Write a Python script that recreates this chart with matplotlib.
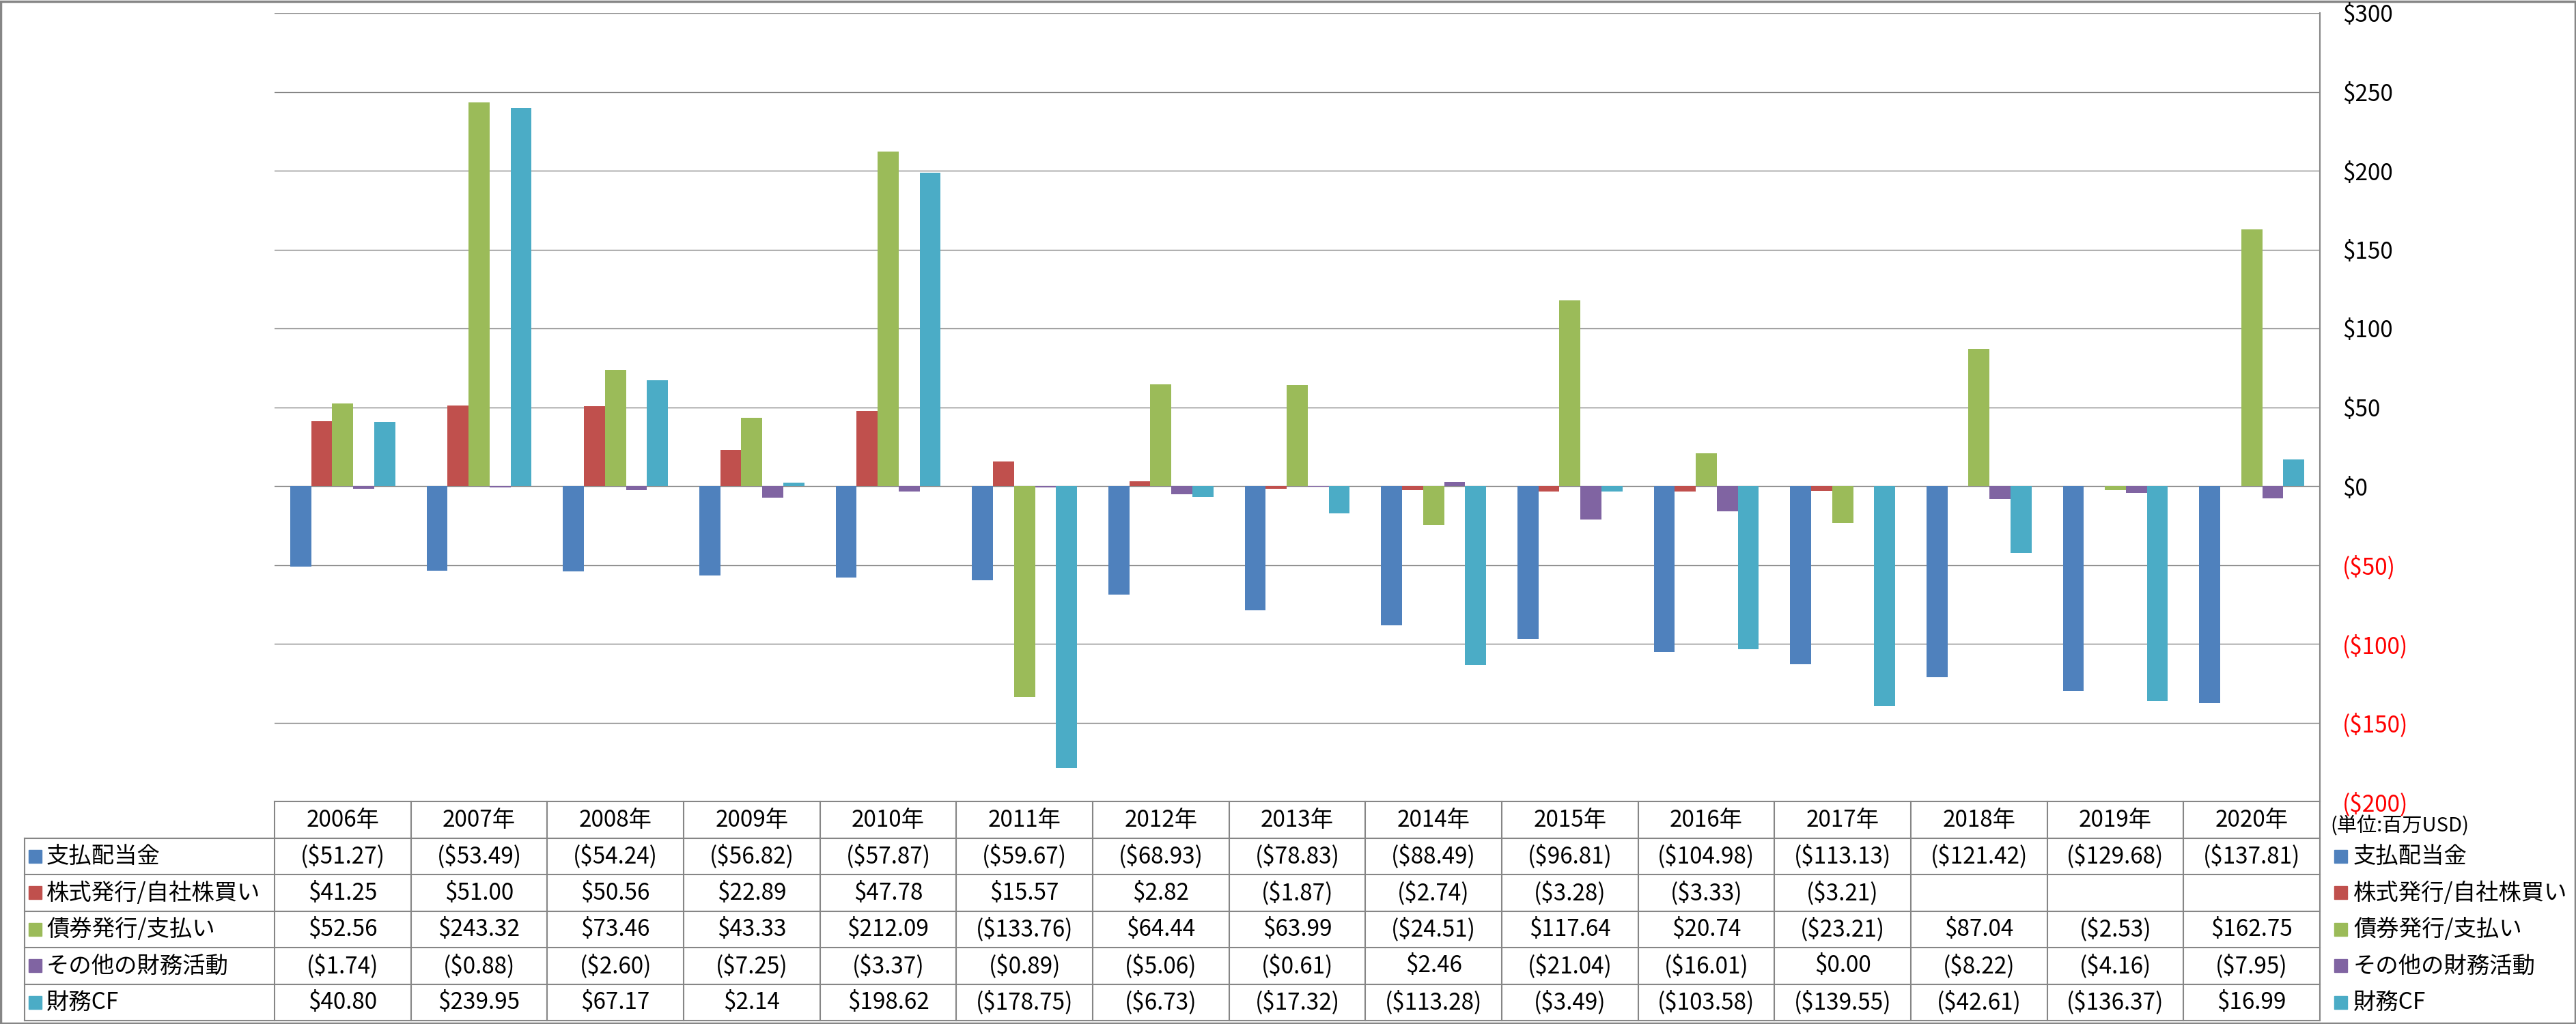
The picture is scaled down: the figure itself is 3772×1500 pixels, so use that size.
import numpy as np
import matplotlib.pyplot as plt
from matplotlib.patches import Rectangle

plt.rcParams['font.family'] = ['Noto Sans CJK JP', 'DejaVu Sans']

# data (millions USD)
years = ['2006年', '2007年', '2008年', '2009年', '2010年', '2011年', '2012年', '2013年',
         '2014年', '2015年', '2016年', '2017年', '2018年', '2019年', '2020年']
series_names = ['支払配当金', '株式発行/自社株買い', '債券発行/支払い', 'その他の財務活動', '財務CF']
dividends = [-51.27, -53.49, -54.24, -56.82, -57.87, -59.67, -68.93, -78.83,
             -88.49, -96.81, -104.98, -113.13, -121.42, -129.68, -137.81]
stock = [41.25, 51.00, 50.56, 22.89, 47.78, 15.57, 2.82, -1.87,
         -2.74, -3.28, -3.33, -3.21, np.nan, np.nan, np.nan]
bonds = [52.56, 243.32, 73.46, 43.33, 212.09, -133.76, 64.44, 63.99,
         -24.51, 117.64, 20.74, -23.21, 87.04, -2.53, 162.75]
other = [-1.74, -0.88, -2.60, -7.25, -3.37, -0.89, -5.06, -0.61,
         2.46, -21.04, -16.01, 0.00, -8.22, -4.16, -7.95]
financing_cf = [40.80, 239.95, 67.17, 2.14, 198.62, -178.75, -6.73, -17.32,
                -113.28, -3.49, -103.58, -139.55, -42.61, -136.37, 16.99]
y_ticks = [-200, -150, -100, -50, 0, 50, 100, 150, 200, 250, 300]

colors = ['#4F81BD', '#C0504D', '#9BBB59', '#8064A2', '#4BACC6']
all_series = [dividends, stock, bonds, other, financing_cf]
grey = '#868686'


def money(v, decimals=2):
    if np.isnan(v):
        return ''
    if v < 0:
        return '($' + format(-v, ',.%df' % decimals) + ')'
    return '$' + format(v, ',.%df' % decimals)


W, H = 3773, 1500
fig = plt.figure(figsize=(W / 100, H / 100), dpi=100)

# pixel layout
plot_l, plot_r = 402, 3397
plot_t, plot_b = 19, 1174
row_y = [1174, 1228, 1281, 1335, 1388, 1442, 1495]
col_w = (plot_r - plot_l) / len(years)

# table / frame layer
tab = fig.add_axes([0, 0, 1, 1])
tab.set_xlim(0, W)
tab.set_ylim(H, 0)
tab.axis('off')

ax = fig.add_axes([plot_l / W, 1 - plot_b / H, (plot_r - plot_l) / W, (plot_b - plot_t) / H])
ax.set_facecolor('none')

x = np.arange(len(years))
bw = 0.154
for k, (vals, c) in enumerate(zip(all_series, colors)):
    ax.bar(x + (k - 2) * bw, vals, bw, color=c, zorder=3)

ax.set_xlim(-0.5, len(years) - 0.5)
ax.set_ylim(-200, 300)
ax.set_xticks([])
ax.yaxis.tick_right()
ax.set_yticks(y_ticks)
ax.set_yticklabels([money(t, 0) for t in y_ticks])
ax.tick_params(axis='y', length=0, pad=24, labelsize=24)
for tick, t in zip(ax.yaxis.get_major_ticks(), y_ticks):
    tick.label2.set_color('red' if t < 0 else 'black')
ax.grid(axis='y', color=grey, linewidth=1.0, zorder=0)
for s in ['top', 'left', 'bottom']:
    ax.spines[s].set_visible(False)
ax.spines['right'].set_color(grey)
ax.spines['right'].set_linewidth(1.5)

# table grid
lw = 1.5
tab.plot([plot_l, plot_r], [row_y[0], row_y[0]], color=grey, lw=lw)
for y in row_y[1:]:
    tab.plot([36, plot_r], [y, y], color=grey, lw=lw)
tab.plot([36, 36], [row_y[1], row_y[-1]], color=grey, lw=lw)
for i in range(len(years) + 1):
    xx = plot_l + i * col_w
    tab.plot([xx, xx], [row_y[0], row_y[-1]], color=grey, lw=lw)

# header and values
fs = 24
for i, yr in enumerate(years):
    cx = plot_l + (i + 0.5) * col_w
    tab.text(cx, (row_y[0] + row_y[1]) / 2, yr, ha='center', va='center', fontsize=fs)
    for r, vals in enumerate(all_series):
        cy = (row_y[r + 1] + row_y[r + 2]) / 2
        tab.text(cx, cy, money(vals[i]), ha='center', va='center', fontsize=fs)

# legend keys left and right
for r, (name, c) in enumerate(zip(series_names, colors)):
    cy = (row_y[r + 1] + row_y[r + 2]) / 2
    tab.add_patch(Rectangle((42, cy - 10), 19, 19, color=c))
    tab.text(68, cy, name, ha='left', va='center', fontsize=fs)
    tab.add_patch(Rectangle((3418, cy - 10), 19, 19, color=c))
    tab.text(3446, cy, name, ha='left', va='center', fontsize=fs)

tab.text(3412, 1210, '(単位:百万USD)', ha='left', va='center', fontsize=21)

# outer border
tab.add_patch(Rectangle((1.5, 1.5), W - 3, H - 3, fill=False, edgecolor=grey, lw=2.5))

fig.savefig('out.png', dpi=100)
